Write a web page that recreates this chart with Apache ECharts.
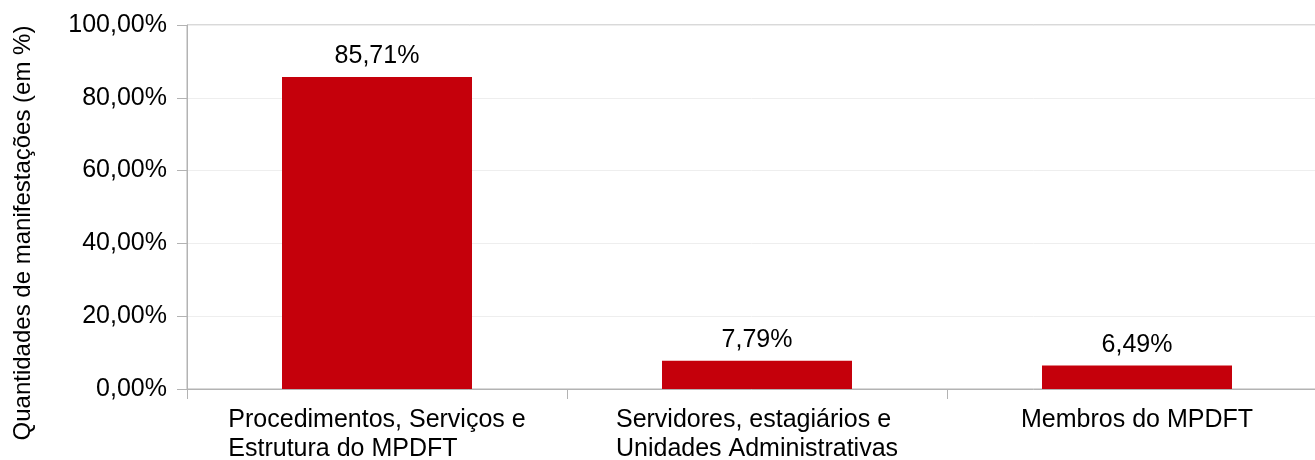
<!DOCTYPE html>
<html>
<head>
<meta charset="UTF-8">
<title>Manifestações</title>
<script src="https://cdn.jsdelivr.net/npm/echarts@6/dist/echarts.min.js"></script>
<style>
  html, body { margin: 0; padding: 0; background: #fff; }
  #main { width: 1315px; height: 460px; }
</style>
</head>
<body>
<div id="main"></div>
<script>
  // dados
  var categorias = [
    ['Procedimentos, Serviços e', 'Estrutura do MPDFT'],
    ['Servidores, estagiários e', 'Unidades Administrativas'],
    ['Membros do MPDFT']
  ]
  var valores = [85.71, 7.79, 6.49]

  function pct(v) {
    return v.toFixed(2).replace('.', ',') + '%'
  }

  var fonte = 'Liberation Sans, Arial, sans-serif'
  var chart = echarts.init(document.getElementById('main'))
  chart.setOption({
    animation: false,
    textStyle: { fontFamily: fonte },
    grid: {
      left: 187, right: -12, top: 25, bottom: 71,
      show: true, borderColor: '#b3b3b3', borderWidth: 1,
      containLabel: false,
      outerBoundsMode: 'none'
    },
    xAxis: {
      type: 'category',
      data: categorias.map(function (c) { return c.join('\n') }),
      axisLine: { lineStyle: { color: '#b3b3b3' } },
      axisTick: { show: true, length: 10, lineStyle: { color: '#b3b3b3' } },
      axisLabel: {
        margin: 17,
        color: '#000',
        fontSize: 25,
        lineHeight: 29,
        fontFamily: fonte,
        interval: 0,
        formatter: function (v) {
          return v.split('\n').map(function (s) { return '{l|' + s + '}' }).join('\n')
        },
        rich: { l: { align: 'left', fontSize: 25, lineHeight: 29, color: '#000', fontFamily: fonte } }
      }
    },
    yAxis: {
      type: 'value',
      min: 0, max: 100, interval: 20,
      name: 'Quantidades de manifestações (em %)',
      nameLocation: 'middle',
      nameGap: 152,
      nameTextStyle: { fontSize: 24, color: '#000', fontFamily: fonte, padding: [0, 52, 0, 0] },
      axisLine: { show: true, lineStyle: { color: '#b3b3b3' } },
      axisTick: { show: true, length: 10, lineStyle: { color: '#b3b3b3' } },
      axisLabel: { fontSize: 25, color: '#000', margin: 20, fontFamily: fonte, formatter: pct },
      splitLine: { lineStyle: { color: '#eeeeee' } }
    },
    series: [{
      type: 'bar',
      data: valores,
      barWidth: '50%',
      itemStyle: { color: '#c5000b' },
      label: {
        show: true, position: 'top', distance: 8,
        fontSize: 25, color: '#000', fontFamily: fonte,
        formatter: function (p) { return pct(p.value) }
      }
    }]
  })
</script>
</body>
</html>
